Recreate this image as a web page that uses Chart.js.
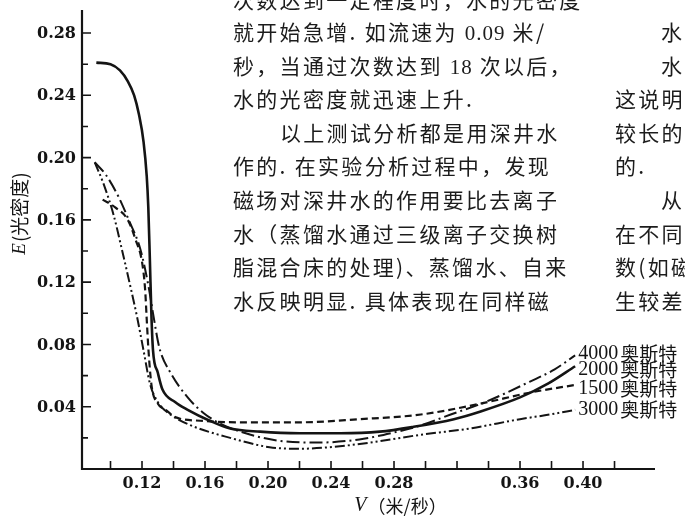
<!DOCTYPE html>
<html>
<head>
<meta charset="utf-8">
<script src="https://cdn.jsdelivr.net/npm/chart.js@4/dist/chart.umd.min.js"></script>
<style>
  html, body { margin: 0; padding: 0; background: #fff; }
  #wrap { position: relative; width: 685px; height: 516px; overflow: hidden; }
  #wrap canvas { position: absolute; left: 0; top: 0; }
  .ln {
    position: absolute;
    font-family: "Noto Sans CJK SC", sans-serif;
    font-size: 21px;
    line-height: 24px;
    letter-spacing: 2.3px;
    color: #1c1c1c;
    white-space: nowrap;
  }
  .num { font-family: "Liberation Serif", serif; letter-spacing: 1px; }
</style>
</head>
<body>
<div id="wrap">
  <canvas id="chart" width="685" height="516"></canvas>

  <!-- body text of the page, left column -->
  <div class="ln" style="left:233px;top:-13px">次数达到一定程度时，水的光密度</div>
  <div class="ln" style="left:233px;top:19px">就开始急增. 如流速为 <span class="num">0.09</span> 米/</div>
  <div class="ln" style="left:233px;top:53px">秒，当通过次数达到 <span class="num">18</span> 次以后，</div>
  <div class="ln" style="left:233px;top:86px">水的光密度就迅速上升.</div>
  <div class="ln" style="left:280px;top:120px">以上测试分析都是用深井水</div>
  <div class="ln" style="left:233px;top:153px">作的. 在实验分析过程中，发现</div>
  <div class="ln" style="left:233px;top:187px">磁场对深井水的作用要比去离子</div>
  <div class="ln" style="left:233px;top:221px">水（蒸馏水通过三级离子交换树</div>
  <div class="ln" style="left:233px;top:254px">脂混合床的处理)、蒸馏水、自来</div>
  <div class="ln" style="left:233px;top:288px">水反映明显. 具体表现在同样磁</div>

  <!-- body text of the page, right column -->
  <div class="ln" style="left:661px;top:19px">水</div>
  <div class="ln" style="left:661px;top:53px">水</div>
  <div class="ln" style="left:615px;top:86px">这说明</div>
  <div class="ln" style="left:615px;top:120px">较长的</div>
  <div class="ln" style="left:615px;top:153px">的.</div>
  <div class="ln" style="left:661px;top:187px">从</div>
  <div class="ln" style="left:615px;top:221px">在不同</div>
  <div class="ln" style="left:615px;top:254px">数(如磁</div>
  <div class="ln" style="left:615px;top:288px">生较差</div>
</div>

<script>
// Flow speed V (m/s) and optical density E for each magnetic field strength
const speed4000 = [0.090, 0.097, 0.105, 0.112, 0.119, 0.124, 0.127, 0.131, 0.138, 0.149, 0.159, 0.170, 0.189, 0.208, 0.233, 0.258, 0.278, 0.297, 0.316, 0.338, 0.366, 0.382, 0.395];
const density4000 = [0.197, 0.189, 0.175, 0.159, 0.141, 0.118, 0.100, 0.078, 0.062, 0.046, 0.036, 0.029, 0.022, 0.018, 0.017, 0.019, 0.023, 0.028, 0.035, 0.043, 0.056, 0.064, 0.073];

const speed2000 = [0.091, 0.100, 0.106, 0.111, 0.115, 0.118, 0.121, 0.123, 0.124, 0.125, 0.126, 0.127, 0.130, 0.133, 0.141, 0.149, 0.163, 0.176, 0.195, 0.220, 0.246, 0.271, 0.292, 0.318, 0.335, 0.360, 0.378, 0.395];
const density2000 = [0.261, 0.260, 0.256, 0.249, 0.240, 0.228, 0.210, 0.188, 0.168, 0.134, 0.098, 0.076, 0.062, 0.051, 0.043, 0.038, 0.031, 0.026, 0.024, 0.023, 0.023, 0.024, 0.027, 0.032, 0.037, 0.046, 0.055, 0.066];

const speed1500 = [0.095, 0.103, 0.111, 0.116, 0.120, 0.122, 0.123, 0.124, 0.126, 0.130, 0.135, 0.142, 0.157, 0.182, 0.220, 0.258, 0.297, 0.335, 0.366, 0.395];
const density1500 = [0.173, 0.168, 0.160, 0.147, 0.133, 0.115, 0.096, 0.078, 0.054, 0.042, 0.038, 0.033, 0.031, 0.030, 0.030, 0.032, 0.035, 0.042, 0.049, 0.054];

const speed3000 = [0.090, 0.096, 0.102, 0.107, 0.112, 0.117, 0.121, 0.125, 0.130, 0.138, 0.151, 0.176, 0.201, 0.220, 0.239, 0.265, 0.297, 0.328, 0.360, 0.379, 0.395];
const density3000 = [0.197, 0.182, 0.163, 0.142, 0.120, 0.097, 0.076, 0.055, 0.043, 0.035, 0.028, 0.020, 0.014, 0.013, 0.014, 0.017, 0.022, 0.026, 0.032, 0.035, 0.038];

const seriesLabels = ['4000 奥斯特', '2000 奥斯特', '1500 奥斯特', '3000 奥斯特'];
const xTickLabels = ['0.12', '0.16', '0.20', '0.24', '0.28', '0.36', '0.40'];
const yTickLabels = ['0.04', '0.08', '0.12', '0.16', '0.20', '0.24', '0.28'];

const pairs = (xs, ys) => xs.map((v, i) => ({ x: v, y: ys[i] }));

const INK = '#141414';
const SERIF = '"Liberation Serif", "DejaVu Serif", serif';
const CJK = '"Noto Sans CJK SC", sans-serif';

// Draws a title made of an italic Latin symbol followed by a CJK unit, centred on (cx, cy)
function drawSymbolTitle(ctx, sym, unit, cx, cy, symFont, unitFont) {
  ctx.font = symFont;
  const sw = ctx.measureText(sym).width;
  ctx.font = unitFont;
  const uw = ctx.measureText(unit).width;
  const x0 = cx - (sw + uw) / 2;
  ctx.font = symFont;
  ctx.fillText(sym, x0, cy);
  ctx.font = unitFont;
  ctx.fillText(unit, x0 + sw + 1, cy);
}

// Axes, inward ticks, tick labels, axis titles and end-of-curve labels
const bookAxes = {
  id: 'bookAxes',
  afterDatasetsDraw(chart) {
    const { ctx, chartArea: a, scales: { x, y } } = chart;
    ctx.save();
    ctx.strokeStyle = INK;
    ctx.fillStyle = INK;
    ctx.lineCap = 'butt';

    // axis lines
    ctx.lineWidth = 2.2;
    ctx.beginPath();
    ctx.moveTo(a.left, a.top);
    ctx.lineTo(a.left, a.bottom);
    ctx.lineTo(a.right, a.bottom);
    ctx.stroke();

    // y ticks every 0.02, pointing into the plot
    ctx.lineWidth = 1.6;
    ctx.beginPath();
    for (let i = 1; i <= 14; i++) {
      const py = y.getPixelForValue(i * 0.02);
      const len = i % 2 === 0 ? 9 : 6;
      ctx.moveTo(a.left, py);
      ctx.lineTo(a.left + len, py);
    }
    // x ticks every 0.02 from 0.10 to 0.42
    for (let i = 5; i <= 21; i++) {
      const px = x.getPixelForValue(i * 0.02);
      ctx.moveTo(px, a.bottom);
      ctx.lineTo(px, a.bottom - 8);
    }
    ctx.stroke();

    // tick labels
    ctx.font = 'bold 16px "DejaVu Serif", serif';
    ctx.textBaseline = 'middle';
    ctx.textAlign = 'right';
    yTickLabels.forEach(t => {
      ctx.fillText(t, a.left - 6, y.getPixelForValue(parseFloat(t)) + 1);
    });
    ctx.textAlign = 'center';
    xTickLabels.forEach(t => {
      ctx.fillText(t, x.getPixelForValue(parseFloat(t)), a.bottom + 15);
    });

    // y-axis title, reading upwards
    ctx.textAlign = 'left';
    ctx.save();
    ctx.translate(20, 214);
    ctx.rotate(-Math.PI / 2);
    drawSymbolTitle(ctx, 'E', '(光密度)', 0, 0, 'italic 19px ' + SERIF, '19px ' + CJK);
    ctx.restore();

    // x-axis title
    drawSymbolTitle(ctx, 'V', '（米/秒）', 400, 506, 'italic 20px ' + SERIF, '18px ' + CJK);

    // labels at the right-hand end of each curve
    chart.data.datasets.forEach((ds, i) => {
      const last = ds.data[ds.data.length - 1];
      const px = x.getPixelForValue(last.x) + 3;
      const py = y.getPixelForValue(last.y) + ds.labelShift;
      const [num, unit] = seriesLabels[i].split(' ');
      ctx.font = '20px ' + SERIF;
      ctx.fillText(num, px, py);
      const w = ctx.measureText(num).width;
      ctx.font = '19px ' + CJK;
      ctx.fillText(unit, px + w + 2, py);
    });

    ctx.restore();
  }
};

const common = {
  borderColor: INK,
  pointRadius: 0,
  fill: false,
  cubicInterpolationMode: 'monotone'
};

new Chart(document.getElementById('chart'), {
  type: 'line',
  data: {
    datasets: [
      { ...common, label: seriesLabels[0], data: pairs(speed4000, density4000), borderWidth: 2, borderDash: [13, 4, 2, 4], labelShift: -2 },
      { ...common, label: seriesLabels[1], data: pairs(speed2000, density2000), borderWidth: 2.6, labelShift: 4 },
      { ...common, label: seriesLabels[2], data: pairs(speed1500, density1500), borderWidth: 2.2, borderDash: [7, 4], labelShift: 4 },
      { ...common, label: seriesLabels[3], data: pairs(speed3000, density3000), borderWidth: 2, borderDash: [10, 3, 2, 3, 2, 3], labelShift: 0 }
    ]
  },
  options: {
    responsive: false,
    devicePixelRatio: 1,
    animation: false,
    layout: { padding: { left: 82, right: 30, top: 10, bottom: 47 } },
    plugins: { legend: { display: false }, tooltip: { enabled: false } },
    scales: {
      x: { type: 'linear', min: 0.0819, max: 0.4457, display: false },
      y: { type: 'linear', min: 0, max: 0.2948, display: false }
    }
  },
  plugins: [bookAxes]
});
</script>
</body>
</html>
